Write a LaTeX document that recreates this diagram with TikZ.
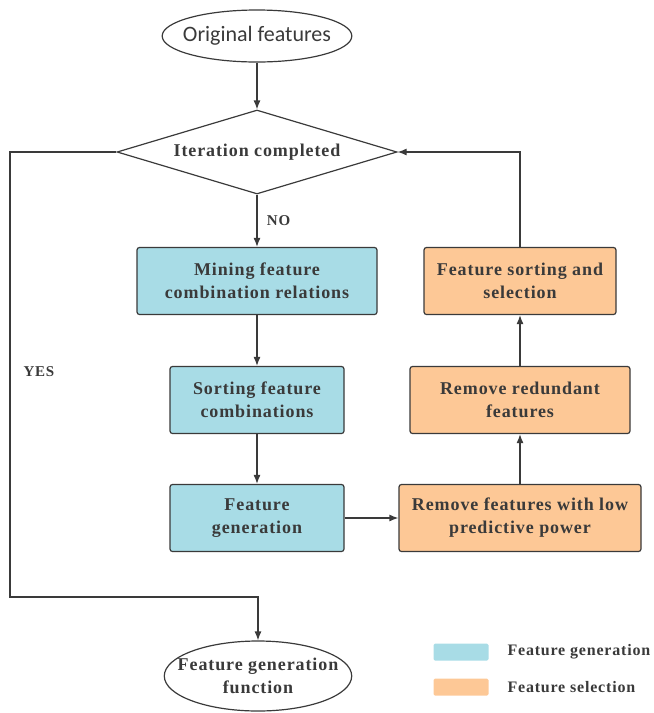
\documentclass[tikz,border=0pt]{standalone}
\usepackage{fontspec}
\setmainfont{Liberation Serif}[LetterSpace=5]
\newfontfamily\labelfont{Carlito}
\usetikzlibrary{shapes.geometric,arrows.meta}
\definecolor{genblue}{HTML}{A8DCE6}
\definecolor{selorange}{HTML}{FDC896}
\definecolor{edgegray}{HTML}{3A3A3A}
\begin{document}
\begin{tikzpicture}[x=1pt,y=-1pt,
		every node/.style={text=edgegray},
		box/.style={draw=edgegray, line width=1.2pt, rounded corners=2.5pt, align=center,
			font=\bfseries\fontsize{18}{23}\selectfont, inner sep=0pt},
		genbox/.style={box, fill=genblue},
		selbox/.style={box, fill=selorange},
		terminal/.style={draw=edgegray, line width=1.2pt, ellipse, inner ysep=0pt, align=center},
		flow/.style={draw=edgegray, line width=1.2pt, -{Latex[length=9pt,width=7pt]}},
		legendtext/.style={font=\bfseries\fontsize{16}{18}\selectfont, anchor=west}]
		\useasboundingbox (0,0) rectangle (654,713);
		% start, decision and end
		\node[terminal, inner xsep=-7pt, minimum height=52pt, font=\labelfont\fontsize{22}{24}\selectfont] (orig) at (257,36) {Original features};
		\node[draw=edgegray, line width=1.2pt, diamond, aspect=3.33, inner sep=0pt, minimum width=280pt, minimum height=84pt,
			font=\bfseries\fontsize{18}{20}\selectfont] (iter) at (257,152) {Iteration completed};
		\node[terminal, inner xsep=-14pt, minimum height=70pt, font=\bfseries\fontsize{18}{23}\selectfont] (func) at (258,676) {Feature generation\\function};
		% feature generation
		\node[genbox, minimum width=240pt, minimum height=67pt] (mine) at (257,281) {Mining feature\\combination relations};
		\node[genbox, minimum width=174pt, minimum height=67pt] (sort) at (257,400) {Sorting feature\\combinations};
		\node[genbox, minimum width=174pt, minimum height=67pt] (gen) at (257,518) {Feature\\generation};
		% feature selection
		\node[selbox, minimum width=242pt, minimum height=67pt] (lowpow) at (520,518) {Remove features with low\\predictive power};
		\node[selbox, minimum width=220pt, minimum height=67pt] (redund) at (520,400) {Remove redundant\\features};
		\node[selbox, minimum width=192pt, minimum height=67pt] (select) at (520,281) {Feature sorting and\\selection};
		\coordinate (yesleft) at (10,152);
		\coordinate (yesdown) at (10,597);
		% connectors
		\draw[flow] (orig) -- (iter);
		\draw[flow] (iter) -- node[right, xshift=6pt, font=\bfseries\fontsize{15}{16}\selectfont] {NO} (mine);
		\draw[flow] (mine) -- (sort);
		\draw[flow] (sort) -- (gen);
		\draw[flow] (gen) -- (lowpow);
		\draw[flow] (lowpow) -- (redund);
		\draw[flow] (redund) -- (select);
		\draw[flow] (select.north) |- (iter.east);
		\draw[flow] (iter.west) -- (yesleft) -- (yesdown) -| (func.north);
		\node[font=\bfseries\fontsize{15}{16}\selectfont] (yes) at (39,372) {YES};
		% legend
		\node[fill=genblue, rounded corners=1.5pt, minimum width=55pt, minimum height=17pt, inner sep=0pt] (keygen) at (461,652) {};
		\node[fill=selorange, rounded corners=1.5pt, minimum width=55pt, minimum height=17pt, inner sep=0pt] (keysel) at (461,687) {};
		\node[legendtext] (keygentext) at (504,652) {Feature generation};
		\node[legendtext] (keyseltext) at (504,687) {Feature selection};
\end{tikzpicture}
\end{document}
